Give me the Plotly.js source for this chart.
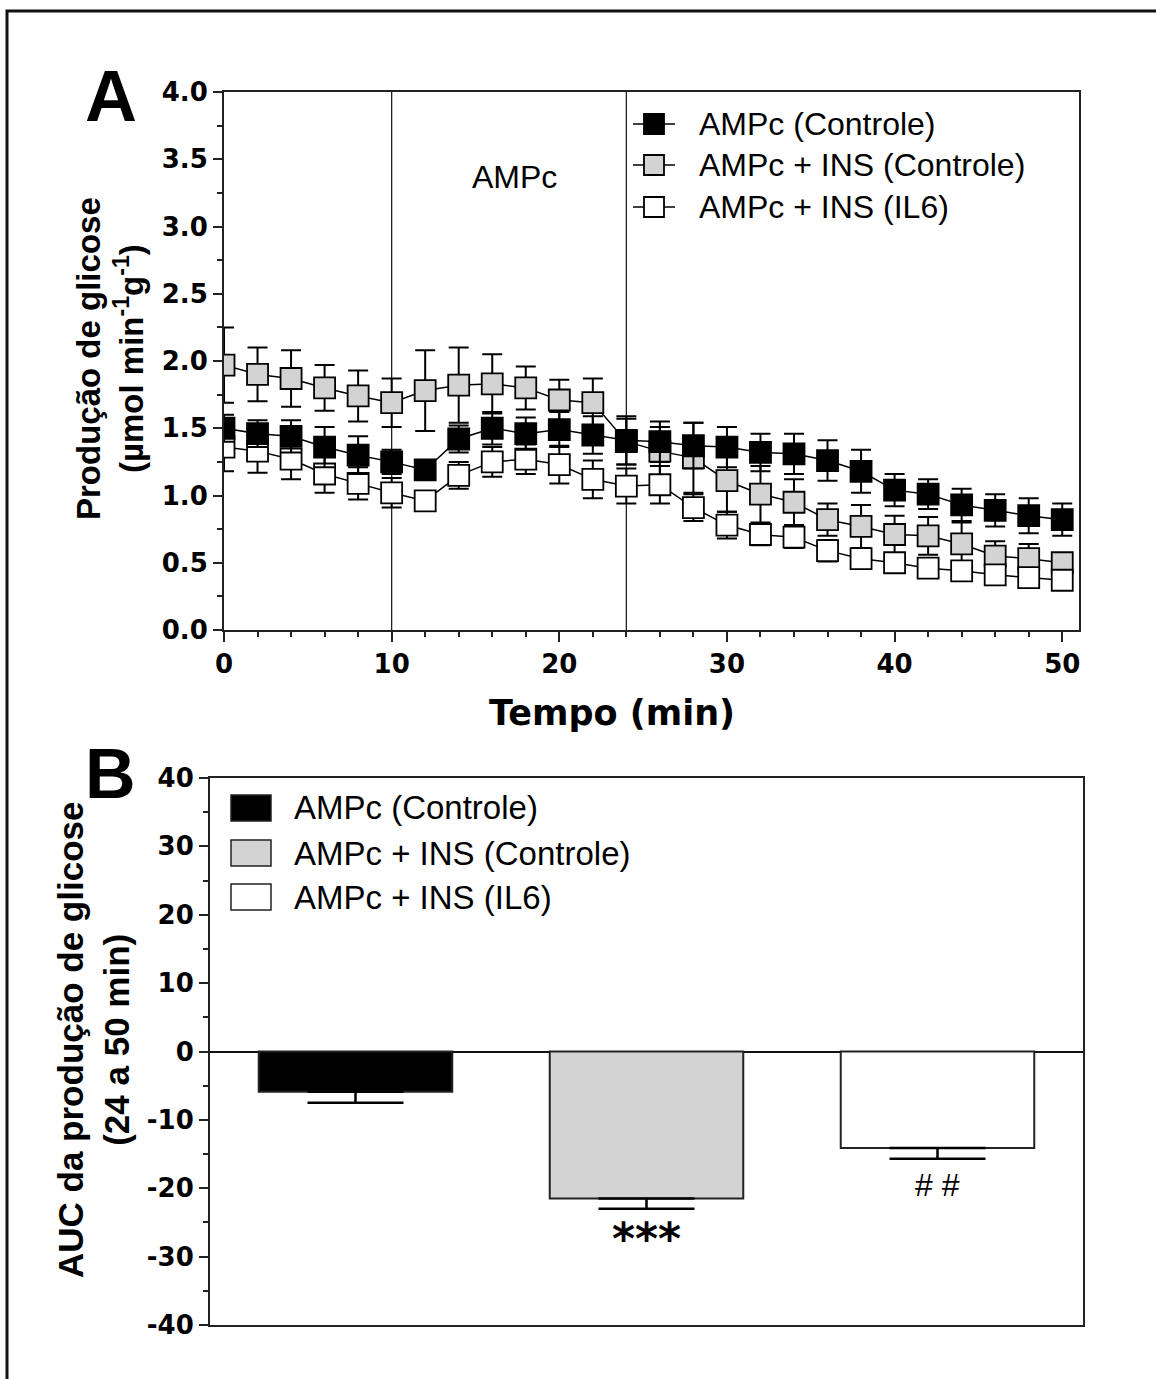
<!DOCTYPE html>
<html><head><meta charset="utf-8">
<script src="https://cdn.plot.ly/plotly-3.0.1.min.js"></script>
<style>html,body{margin:0;padding:0;background:#fff}</style>
</head><body><div id="chart" style="width:1156px;height:1379px"></div>
<script>
// ---------- Data: panel A ----------
const timeMin = [0,2,4,6,8,10,12,14,16,18,20,22,24,26,28,30,32,34,36,38,40,42,44,46,48,50];
const ampcControle = [1.50,1.46,1.44,1.36,1.30,1.25,1.19,1.42,1.50,1.46,1.49,1.45,1.41,1.40,1.37,1.36,1.32,1.31,1.26,1.18,1.04,1.01,0.93,0.89,0.85,0.82];
const ampcControleErr = [0.10,0.10,0.12,0.15,0.14,0.09,0.05,0.10,0.12,0.12,0.13,0.14,0.18,0.15,0.17,0.15,0.14,0.15,0.15,0.16,0.12,0.11,0.12,0.12,0.13,0.12];
const ampcInsControle = [1.97,1.90,1.87,1.80,1.74,1.69,1.78,1.82,1.83,1.80,1.71,1.69,1.40,1.33,1.28,1.11,1.01,0.95,0.82,0.77,0.71,0.70,0.64,0.55,0.53,0.50];
const ampcInsControleErr = [0.28,0.20,0.21,0.17,0.19,0.18,0.30,0.28,0.22,0.16,0.15,0.18,0.17,0.18,0.26,0.23,0.21,0.17,0.12,0.16,0.14,0.14,0.16,0.11,0.11,0.06];
const ampcInsIL6 = [1.36,1.33,1.27,1.16,1.09,1.02,0.96,1.15,1.25,1.27,1.23,1.12,1.07,1.08,0.91,0.78,0.71,0.69,0.59,0.53,0.50,0.46,0.44,0.41,0.39,0.37];
const ampcInsIL6Err = [0.18,0.16,0.15,0.14,0.12,0.11,0.03,0.10,0.11,0.11,0.14,0.14,0.13,0.14,0.10,0.10,0.08,0.08,0.08,0.06,0.05,0.05,0.05,0.05,0.05,0.05];
const seriesNames = ['AMPc (Controle)','AMPc + INS (Controle)','AMPc + INS (IL6)'];
const markerLines = [10, 24];
// ---------- Data: panel B ----------
const aucCategories = ['AMPc (Controle)','AMPc + INS (Controle)','AMPc + INS (IL6)'];
const aucValues = [-5.9, -21.5, -14.1];
const aucErr = [1.6, 1.5, 1.6];
const aucSignif = ['', '***', '# #'];
const aTicks = [0,10,20,30,40,50];
const aYTicks = [0,0.5,1,1.5,2,2.5,3,3.5,4];
const bYTicks = [-40,-30,-20,-10,0,10,20,30,40];

// ---------- Styling ----------
const W = 1156, H = 1379;
const px = x => x / W;
const py = y => 1 - y / H;
const fills = ['#000000', '#d3d3d3', '#ffffff'];
const tickFont = {family: 'DejaVu Sans', size: 26, color: '#000', weight: 'bold'};
const titleFont = {family: 'Liberation Sans, Arial', size: 33, color: '#000', weight: 'bold'};
const AX = '#222';

function lineTrace(y, err, idx) {
  return {
    type: 'scatter', mode: 'lines+markers', x: timeMin, y: y,
    name: seriesNames[idx], showlegend: false,
    xaxis: 'x', yaxis: 'y',
    line: {color: '#000', width: 1.5},
    marker: {symbol: 'square', size: 21, color: fills[idx], line: {color: '#000', width: 1.8}},
    error_y: {type: 'data', array: err, visible: true, color: '#000', thickness: 2, width: 10}
  };
}

const traces = [
  lineTrace(ampcInsControle, ampcInsControleErr, 1),
  lineTrace(ampcInsIL6, ampcInsIL6Err, 2),
  lineTrace(ampcControle, ampcControleErr, 0),
  {
    type: 'bar', x: aucCategories, y: aucValues, xaxis: 'x2', yaxis: 'y2',
    showlegend: false, name: 'AUC',
    marker: {color: fills, line: {color: '#222', width: 2}},
    error_y: {type: 'data', symmetric: false, array: [0,0,0], arrayminus: aucErr,
              visible: true, color: '#000', thickness: 2.5, width: 48}
  }
];

const shapes = [];
// outer frame
shapes.push({type: 'rect', xref: 'paper', yref: 'paper', x0: px(7), x1: 1.02, y0: -0.02, y1: py(11),
  line: {color: '#111', width: 3}});
// vertical markers in A
markerLines.forEach(t => shapes.push({type: 'line', xref: 'x', yref: 'y', x0: t, x1: t, y0: 0, y1: 4,
  line: {color: '#222', width: 1.3}, layer: 'below'}));
// legend A (line + square marker)
const legAY = [124, 165, 207];
legAY.forEach((y, i) => {
  shapes.push({type: 'line', xref: 'paper', yref: 'paper', x0: px(633), x1: px(675), y0: py(y), y1: py(y),
    line: {color: '#000', width: 1.5}});
  shapes.push({type: 'rect', xref: 'paper', yref: 'paper', x0: px(644), x1: px(664), y0: py(y + 10), y1: py(y - 10),
    fillcolor: fills[i], line: {color: '#000', width: 1.8}});
});
// legend B boxes
const legBY = [808, 853, 897];
legBY.forEach((y, i) => shapes.push({type: 'rect', xref: 'paper', yref: 'paper',
  x0: px(231), x1: px(271), y0: py(y + 13), y1: py(y - 13),
  fillcolor: fills[i], line: {color: '#222', width: 1.5}}));

const annotations = [
  {xref: 'paper', yref: 'paper', x: px(111), y: py(96), text: 'A', showarrow: false,
   xanchor: 'center', yanchor: 'middle', font: {family: 'Liberation Sans, Arial', size: 72, color: '#000', weight: 'bold'}},
  {xref: 'paper', yref: 'paper', x: px(110), y: py(774), text: 'B', showarrow: false,
   xanchor: 'center', yanchor: 'middle', font: {family: 'Liberation Sans, Arial', size: 70, color: '#000', weight: 'bold'}},
  {xref: 'x', yref: 'y', x: 17.3, y: 3.37, text: 'AMPc', showarrow: false,
   xanchor: 'center', yanchor: 'middle', font: {family: 'Liberation Sans, Arial', size: 32, color: '#000'}},
  // axis titles
  {xref: 'paper', yref: 'paper', x: px(612), y: py(713), showarrow: false,
   xanchor: 'center', yanchor: 'middle', text: 'Tempo (min)',
   font: {family: 'DejaVu Sans', size: 35, color: '#000', weight: 'bold'}},
  {xref: 'paper', yref: 'paper', x: px(110), y: py(359), textangle: -90, showarrow: false,
   xanchor: 'center', yanchor: 'middle', align: 'center',
   text: 'Produção de glicose<br>(µmol min<sup>-1</sup>g<sup>-1</sup>)', font: titleFont},
  {xref: 'paper', yref: 'paper', x: px(93), y: py(1040), textangle: -90, showarrow: false,
   xanchor: 'center', yanchor: 'middle', align: 'center',
   text: 'AUC da produção de glicose<br>(24 a 50 min)', font: Object.assign({}, titleFont, {size: 35})}
];
legAY.forEach((y, i) => annotations.push({xref: 'paper', yref: 'paper', x: px(697), y: py(y),
  text: seriesNames[i], showarrow: false, xanchor: 'left', yanchor: 'middle',
  font: {family: 'Liberation Sans, Arial', size: 32, color: '#000'}}));
legBY.forEach((y, i) => annotations.push({xref: 'paper', yref: 'paper', x: px(292), y: py(y),
  text: aucCategories[i], showarrow: false, xanchor: 'left', yanchor: 'middle',
  font: {family: 'Liberation Sans, Arial', size: 33, color: '#000'}}));
// significance marks below error bars
aucCategories.forEach((c, i) => {
  if (!aucSignif[i]) return;
  annotations.push({xref: 'x2', yref: 'y2', x: c, y: aucValues[i] - aucErr[i], text: aucSignif[i],
    showarrow: false, xanchor: 'center', yanchor: 'top', yshift: i === 1 ? -2 : -6,
    font: i === 1 ? {family: 'DejaVu Sans', size: 44, color: '#000', weight: 'bold'}
                  : {family: 'Liberation Sans, Arial', size: 32, color: '#000'}});
});

const layout = {
  width: W, height: H,
  margin: {l: 0, r: 0, t: 0, b: 0},
  paper_bgcolor: '#fff', plot_bgcolor: '#fff',
  showlegend: false,
  font: {family: 'Liberation Sans, Arial', color: '#000'},
  xaxis: {domain: [px(224), px(1079)], range: [0, 51], anchor: 'y',
    tickvals: aTicks, ticktext: aTicks.map(String), ticks: 'outside', ticklen: 10, tickwidth: 2, tickcolor: AX,
    minor: {dtick: 2, tick0: 0, ticks: 'outside', ticklen: 5, tickwidth: 2, tickcolor: AX, showgrid: false},
    showline: true, linecolor: AX, linewidth: 2, mirror: true, showgrid: false, zeroline: false,
    tickfont: tickFont},
  yaxis: {domain: [py(630), py(92)], range: [0, 4], anchor: 'x',
    tickvals: aYTicks, ticktext: aYTicks.map(v => v.toFixed(1)), ticks: 'outside', ticklen: 9, tickwidth: 2, tickcolor: AX,
    minor: {dtick: 0.25, tick0: 0, ticks: 'outside', ticklen: 5, tickwidth: 2, tickcolor: AX, showgrid: false},
    showline: true, linecolor: AX, linewidth: 2, mirror: true, showgrid: false, zeroline: false,
    tickfont: tickFont},
  xaxis2: {domain: [px(210), px(1083)], range: [-0.5, 2.5], anchor: 'y2', type: 'category',
    showticklabels: false, ticks: '', showline: true, linecolor: AX, linewidth: 2, mirror: true,
    showgrid: false, zeroline: false},
  yaxis2: {domain: [py(1325), py(778)], range: [-40, 40], anchor: 'x2',
    tickvals: bYTicks, ticktext: bYTicks.map(String), ticks: 'outside', ticklen: 9, tickwidth: 2, tickcolor: AX,
    minor: {dtick: 5, tick0: 0, ticks: 'outside', ticklen: 5, tickwidth: 2, tickcolor: AX, showgrid: false},
    showline: true, linecolor: AX, linewidth: 2, mirror: true, showgrid: false,
    zeroline: true, zerolinecolor: '#111', zerolinewidth: 2,
    tickfont: tickFont},
  bargap: 0.335,
  shapes: shapes,
  annotations: annotations
};

Plotly.newPlot('chart', traces, layout, {displayModeBar: false, staticPlot: true});
</script></body></html>
